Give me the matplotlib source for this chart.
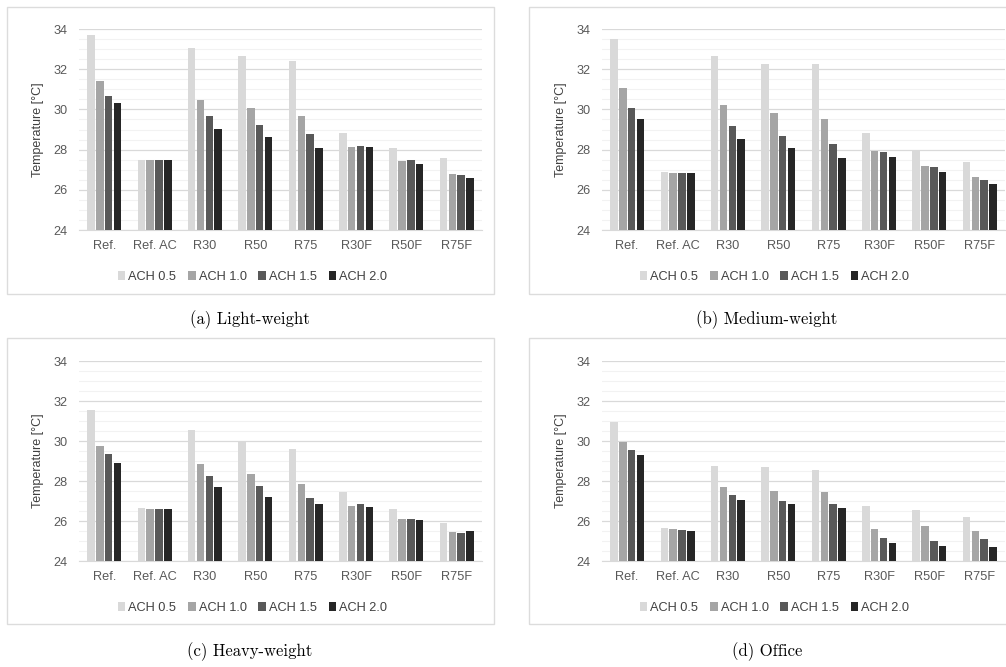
import numpy as np
import matplotlib
matplotlib.use('Agg')
import matplotlib.pyplot as plt
from matplotlib.patches import Rectangle

# 数据
categories = ['Ref.', 'Ref. AC', 'R30', 'R50', 'R75', 'R30F', 'R50F', 'R75F']
series_names = ['ACH 0.5', 'ACH 1.0', 'ACH 1.5', 'ACH 2.0']

light_ach05 = [33.72, 27.50, 33.05, 32.67, 32.39, 28.85, 28.09, 27.57]
light_ach10 = [31.39, 27.50, 30.48, 30.08, 29.66, 28.15, 27.42, 26.79]
light_ach15 = [30.68, 27.50, 29.65, 29.22, 28.78, 28.20, 27.49, 26.76]
light_ach20 = [30.30, 27.47, 29.03, 28.62, 28.09, 28.12, 27.26, 26.59]

medium_ach05 = [33.50, 26.91, 32.67, 32.27, 32.26, 28.83, 27.95, 27.37]
medium_ach10 = [31.06, 26.86, 30.21, 29.83, 29.50, 27.94, 27.17, 26.66]
medium_ach15 = [30.08, 26.84, 29.15, 28.67, 28.27, 27.87, 27.12, 26.47]
medium_ach20 = [29.50, 26.82, 28.52, 28.07, 27.59, 27.62, 26.87, 26.29]

heavy_ach05 = [31.54, 26.65, 30.57, 30.01, 29.59, 27.44, 26.61, 25.91]
heavy_ach10 = [29.74, 26.62, 28.86, 28.36, 27.83, 26.75, 26.08, 25.45]
heavy_ach15 = [29.34, 26.59, 28.23, 27.74, 27.16, 26.83, 26.09, 25.41]
heavy_ach20 = [28.91, 26.59, 27.69, 27.21, 26.85, 26.71, 26.03, 25.48]

office_ach05 = [30.94, 25.66, 28.74, 28.69, 28.53, 26.75, 26.55, 26.21]
office_ach10 = [29.96, 25.58, 27.68, 27.49, 27.44, 25.62, 25.75, 25.48]
office_ach15 = [29.56, 25.53, 27.29, 26.98, 26.86, 25.15, 25.00, 25.10]
office_ach20 = [29.31, 25.49, 27.07, 26.85, 26.63, 24.88, 24.75, 24.68]

captions = ['(a) Light-weight', '(b) Medium-weight', '(c) Heavy-weight', '(d) Office']

colors = ['#d9d9d9', '#a5a5a5', '#595959', '#262626']

W, H = 1006, 667
plt.rcParams['font.family'] = ['Liberation Sans', 'DejaVu Sans']
FS = 9.2

fig = plt.figure(figsize=(W / 100, H / 100), dpi=100)


def px_axes(x0, y0, x1, y1):
    return fig.add_axes([x0 / W, (H - y1) / H, (x1 - x0) / W, (y1 - y0) / H])


def draw_panel(ax, data):
    x = np.arange(len(categories))
    slot = 0.175
    for i, (vals, name) in enumerate(zip(data, series_names)):
        offs = (i - 1.5) * slot
        ax.bar(x + offs, np.array(vals) - 24, bottom=24, width=0.15,
               color=colors[i], label=name, zorder=3)
    ax.set_xlim(-0.5, len(categories) - 0.5)
    ax.set_ylim(24, 34)
    ax.set_yticks(np.arange(24, 35, 2))
    ax.set_yticks(np.arange(24, 34.1, 0.5), minor=True)
    ax.grid(True, which='major', axis='y', color='#d9d9d9', linewidth=0.9, zorder=0)
    ax.grid(True, which='minor', axis='y', color='#f2f2f2', linewidth=0.8, zorder=0)
    ax.tick_params(axis='y', which='both', length=0, pad=8, labelsize=FS, labelcolor='#595959')
    ax.tick_params(axis='x', length=0, pad=7, labelsize=FS, labelcolor='#595959')
    ax.set_xticks(x)
    ax.set_xticklabels(categories)
    for s in ['top', 'right', 'left']:
        ax.spines[s].set_visible(False)
    ax.spines['bottom'].set_color('#d9d9d9')
    ax.set_ylabel('Temperature [°C]', fontsize=9, color='#404040', labelpad=7)


panels = [
    ([light_ach05, light_ach10, light_ach15, light_ach20], (79, 29, 482, 230)),
    ([medium_ach05, medium_ach10, medium_ach15, medium_ach20], (602, 29, 1005, 230)),
    ([heavy_ach05, heavy_ach10, heavy_ach15, heavy_ach20], (79, 361, 482, 561)),
    ([office_ach05, office_ach10, office_ach15, office_ach20], (602, 361, 1005, 561)),
]
borders = [(7, 7, 494, 294), (529, 7, 1016, 294), (7, 338, 494, 624), (529, 338, 1016, 624)]
caption_pos = [(250, 320), (767, 320), (250, 652), (767, 652)]

for (data, box), border, cap, cpos in zip(panels, borders, captions, caption_pos):
    ax = px_axes(*box)
    draw_panel(ax, data)
    bx0, by0, bx1, by1 = border
    fig.add_artist(Rectangle((bx0 / W, (H - by1) / H), (bx1 - bx0) / W, (by1 - by0) / H,
                             transform=fig.transFigure, fill=False,
                             edgecolor='#dcdcdc', linewidth=1.0))
    # 图例
    lx = (bx0 + bx1) / 2 + 2
    ly = by0 + 270
    fig.legend(*ax.get_legend_handles_labels(), loc='center',
               bbox_to_anchor=(lx / W, (H - ly) / H), ncol=4, frameon=False,
               fontsize=FS, handlelength=0.6, handleheight=0.6,
               handletextpad=0.25, columnspacing=0.9, labelcolor='#404040')
    fig.text(cpos[0] / W, (H - cpos[1]) / H, cap, ha='center', va='center',
             family='cmr10', fontsize=12)

fig.savefig('out.png', dpi=100)
